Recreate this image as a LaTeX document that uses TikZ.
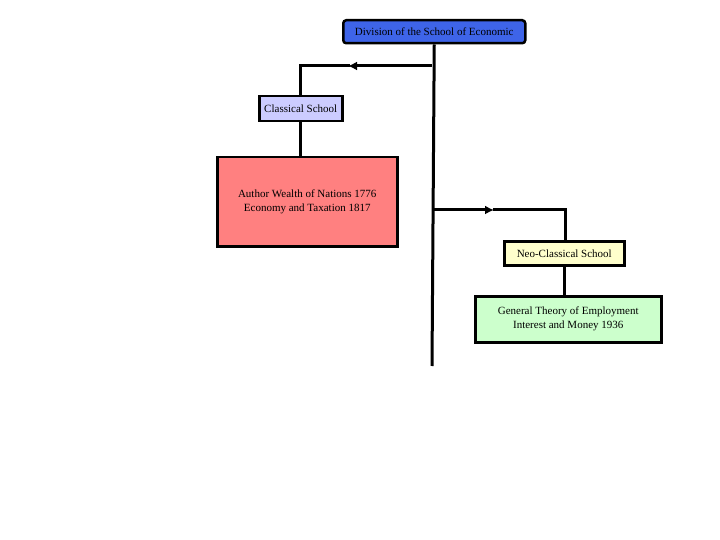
\documentclass[tikz,border=0pt]{standalone}
\usepackage{fontspec}
\setmainfont{Liberation Serif}
\usetikzlibrary{arrows.meta}
\definecolor{topblue}{HTML}{3E64E8}
\definecolor{clsblue}{HTML}{CCCCFF}
\definecolor{redbox}{HTML}{FF8080}
\definecolor{neoyel}{HTML}{FFFFCC}
\definecolor{grnbox}{HTML}{CCFFCC}
\tikzset{
  box/.style={draw=black, line width=2.5pt, inner sep=0pt, font=\fontsize{11}{14}\selectfont, align=center, anchor=north west},
  conn/.style={line width=3pt},
  arr/.style={line width=3pt, -{Latex[length=9pt,width=9pt]}}
}
\begin{document}
\begin{tikzpicture}[x=1pt,y=-1pt]
\useasboundingbox (0,0) rectangle (720,540);
\node[box, fill=topblue, rounded corners=3pt, minimum width=182pt, minimum height=23pt] (top) at (342,19) {Division of the School of Economic};
\node[box, fill=clsblue, minimum width=83pt, minimum height=25pt] (cls) at (258,95) {Classical School};
\node[box, fill=redbox, minimum width=180pt, minimum height=89pt] (red) at (216,156) {Author Wealth of Nations 1776\\Economy and Taxation 1817};
\node[box, fill=neoyel, minimum width=120pt, minimum height=24pt] (neo) at (503,240) {Neo-Classical School};
\node[box, fill=grnbox, minimum width=186pt, minimum height=46pt] (grn) at (474,295) {General Theory of Employment\\Interest and Money 1936};
\coordinate (bot) at (432,366);
\coordinate (lj) at (432,66);
\coordinate (lm) at (348,66);
\coordinate (lc) at (300,66);
\coordinate (rj) at (432,210);
\coordinate (rm) at (494,210);
\coordinate (rc) at (565,210);
\draw[conn] (top.south) -- (bot);
\draw[arr] (lj) -- (lm);
\draw[conn, line cap=rect] (lm) -- (lc) -- (lc |- cls.north);
\draw[conn] (cls.south) -- (cls.south |- red.north);
\draw[arr] (rj) -- (rm);
\draw[conn, line cap=rect] (rm) -- (rc) -- (rc |- neo.north);
\draw[conn] (neo.south) -- (neo.south |- grn.north);
\end{tikzpicture}
\end{document}
